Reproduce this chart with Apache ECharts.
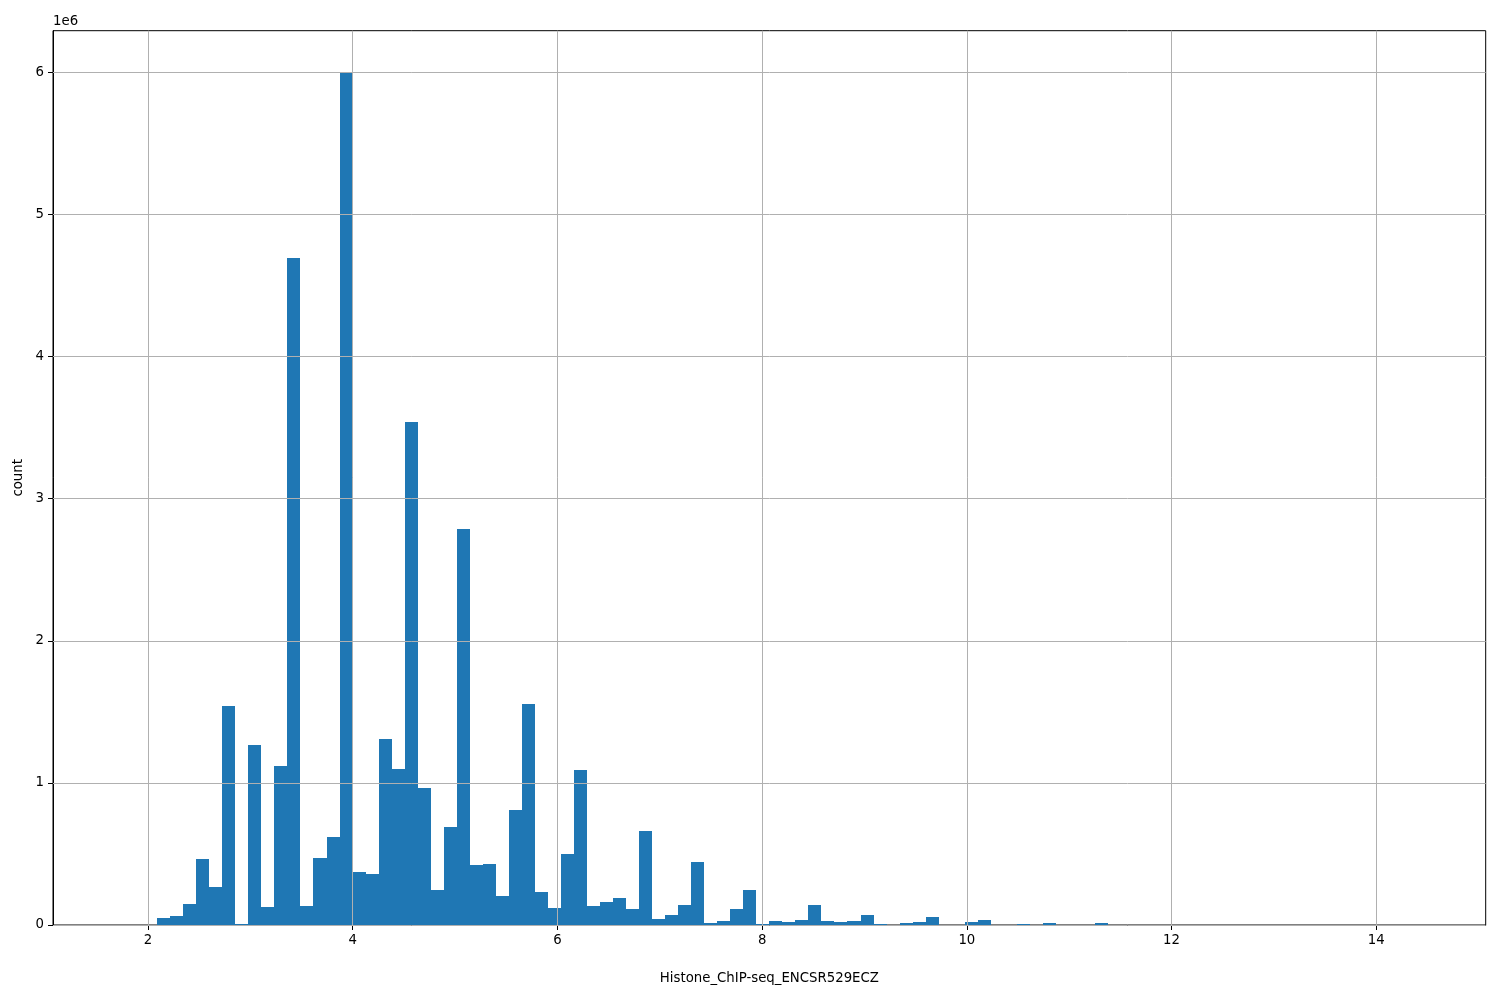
<!DOCTYPE html>
<html>
<head>
<meta charset="utf-8">
<script src="https://cdn.jsdelivr.net/npm/echarts@6/dist/echarts.min.js"></script>
<style>html,body{margin:0;padding:0;background:#fff}#c{width:1500px;height:1000px}</style>
</head>
<body>
<div id="c"></div>
<script>
// Histogram: 100 equal bins between dataMin and dataMax
const dataMin = 1.708;
const dataMax = 14.433;
const binCount = 100;
// counts per bin, bin 0 .. bin 99
const counts = [
  0, 0, 0, 49000, 63000, 148000, 465000, 268000, 1542000, 7000,
  1268000, 127000, 1120000, 4694000, 134000, 472000, 620000, 5994000, 373000, 359000,
  1310000, 1099000, 3540000, 965000, 246000, 690000, 2787000, 423000, 430000, 204000,
  810000, 1556000, 232000, 120000, 500000, 1092000, 134000, 162000, 190000, 113000,
  662000, 42000, 70000, 141000, 444000, 14000, 28000, 113000, 246000, 7000,
  28000, 21000, 35000, 141000, 28000, 21000, 28000, 70000, 7000, 0,
  14000, 21000, 56000, 0, 0, 21000, 35000, 0, 0, 7000,
  0, 14000, 0, 0, 0, 14000, 0, 0, 0, 0,
  0, 0, 0, 0, 0, 0, 0, 0, 0, 0,
  0, 0, 0, 0, 0, 0, 0, 0, 0, 0
];
const xTicks = [2, 4, 6, 8, 10, 12, 14];
const yTicks = [0, 1000000, 2000000, 3000000, 4000000, 5000000, 6000000];
const xLabel = 'Histone_ChIP-seq_ENCSR529ECZ';
const yLabel = 'count';
const yScaleText = '1e6';

const binWidth = (dataMax - dataMin) / binCount;
const span = dataMax - dataMin;
const xMin = dataMin - 0.05 * span;
const xMax = dataMax + 0.05 * span;
const yMax = 1.05 * Math.max.apply(null, counts);

const seriesData = counts.map((c, k) => [dataMin + k * binWidth, dataMin + (k + 1) * binWidth, c]);

const FONT = 'DejaVu Sans';
const chart = echarts.init(document.getElementById('c'), null, {renderer: 'canvas'});
chart.setOption({
  animation: false,
  backgroundColor: '#fff',
  grid: {left: 53, top: 30.7, right: 14.3, bottom: 75, show: true, borderColor: '#000', borderWidth: 1, backgroundColor: 'transparent'},
  xAxis: {
    type: 'value', min: xMin, max: xMax,
    name: xLabel, nameLocation: 'middle', nameGap: 47,
    nameTextStyle: {fontFamily: FONT, fontSize: 13.3, color: '#000'},
    axisLine: {show: true, onZero: false, lineStyle: {color: '#000', width: 1}},
    axisTick: {show: true, length: 5, lineStyle: {color: '#000', width: 1}, customValues: xTicks},
    axisLabel: {margin: 9, fontFamily: FONT, fontSize: 13.3, color: '#000', customValues: xTicks},
    splitLine: {show: false}
  },
  yAxis: {
    type: 'value', min: 0, max: yMax,
    name: yLabel, nameLocation: 'middle', nameGap: 28, nameRotate: 90,
    nameTextStyle: {fontFamily: FONT, fontSize: 13.3, color: '#000', verticalAlign: 'middle'},
    axisLine: {show: true, lineStyle: {color: '#000', width: 1}},
    axisTick: {show: true, length: 5, lineStyle: {color: '#000', width: 1}, customValues: yTicks},
    axisLabel: {margin: 9, fontFamily: FONT, fontSize: 13.3, color: '#000', customValues: yTicks,
      formatter: v => String(Math.round(v / 1e6))},
    splitLine: {show: false}
  },
  graphic: [{
    type: 'text', left: 53, top: 15,
    style: {text: yScaleText, font: '13.3px "DejaVu Sans"', fill: '#000'}
  }],
  series: [{
    type: 'custom',
    data: seriesData,
    encode: {x: [0, 1], y: 2},
    clip: true,
    renderItem: function (params, api) {
      const c = api.value(2);
      const p0 = api.coord([api.value(0), c]);
      const p1 = api.coord([api.value(1), 0]);
      const x0 = Math.round(p0[0]), x1 = Math.round(p1[0]);
      const y0 = Math.round(p0[1]), y1 = Math.round(p1[1]);
      return {type: 'rect', shape: {x: x0, y: y0, width: x1 - x0, height: y1 - y0},
        style: {fill: '#1f77b4'}};
    },
    z: 3
  }, {
    type: 'line', data: [], silent: true, z: 1,
    markLine: {
      silent: true, symbol: 'none', animation: false,
      label: {show: false},
      lineStyle: {color: '#b0b0b0', width: 1, type: 'solid'},
      data: xTicks.map(v => ({xAxis: v})).concat(yTicks.map(v => ({yAxis: v})))
    }
  }]
});
</script>
</body>
</html>
